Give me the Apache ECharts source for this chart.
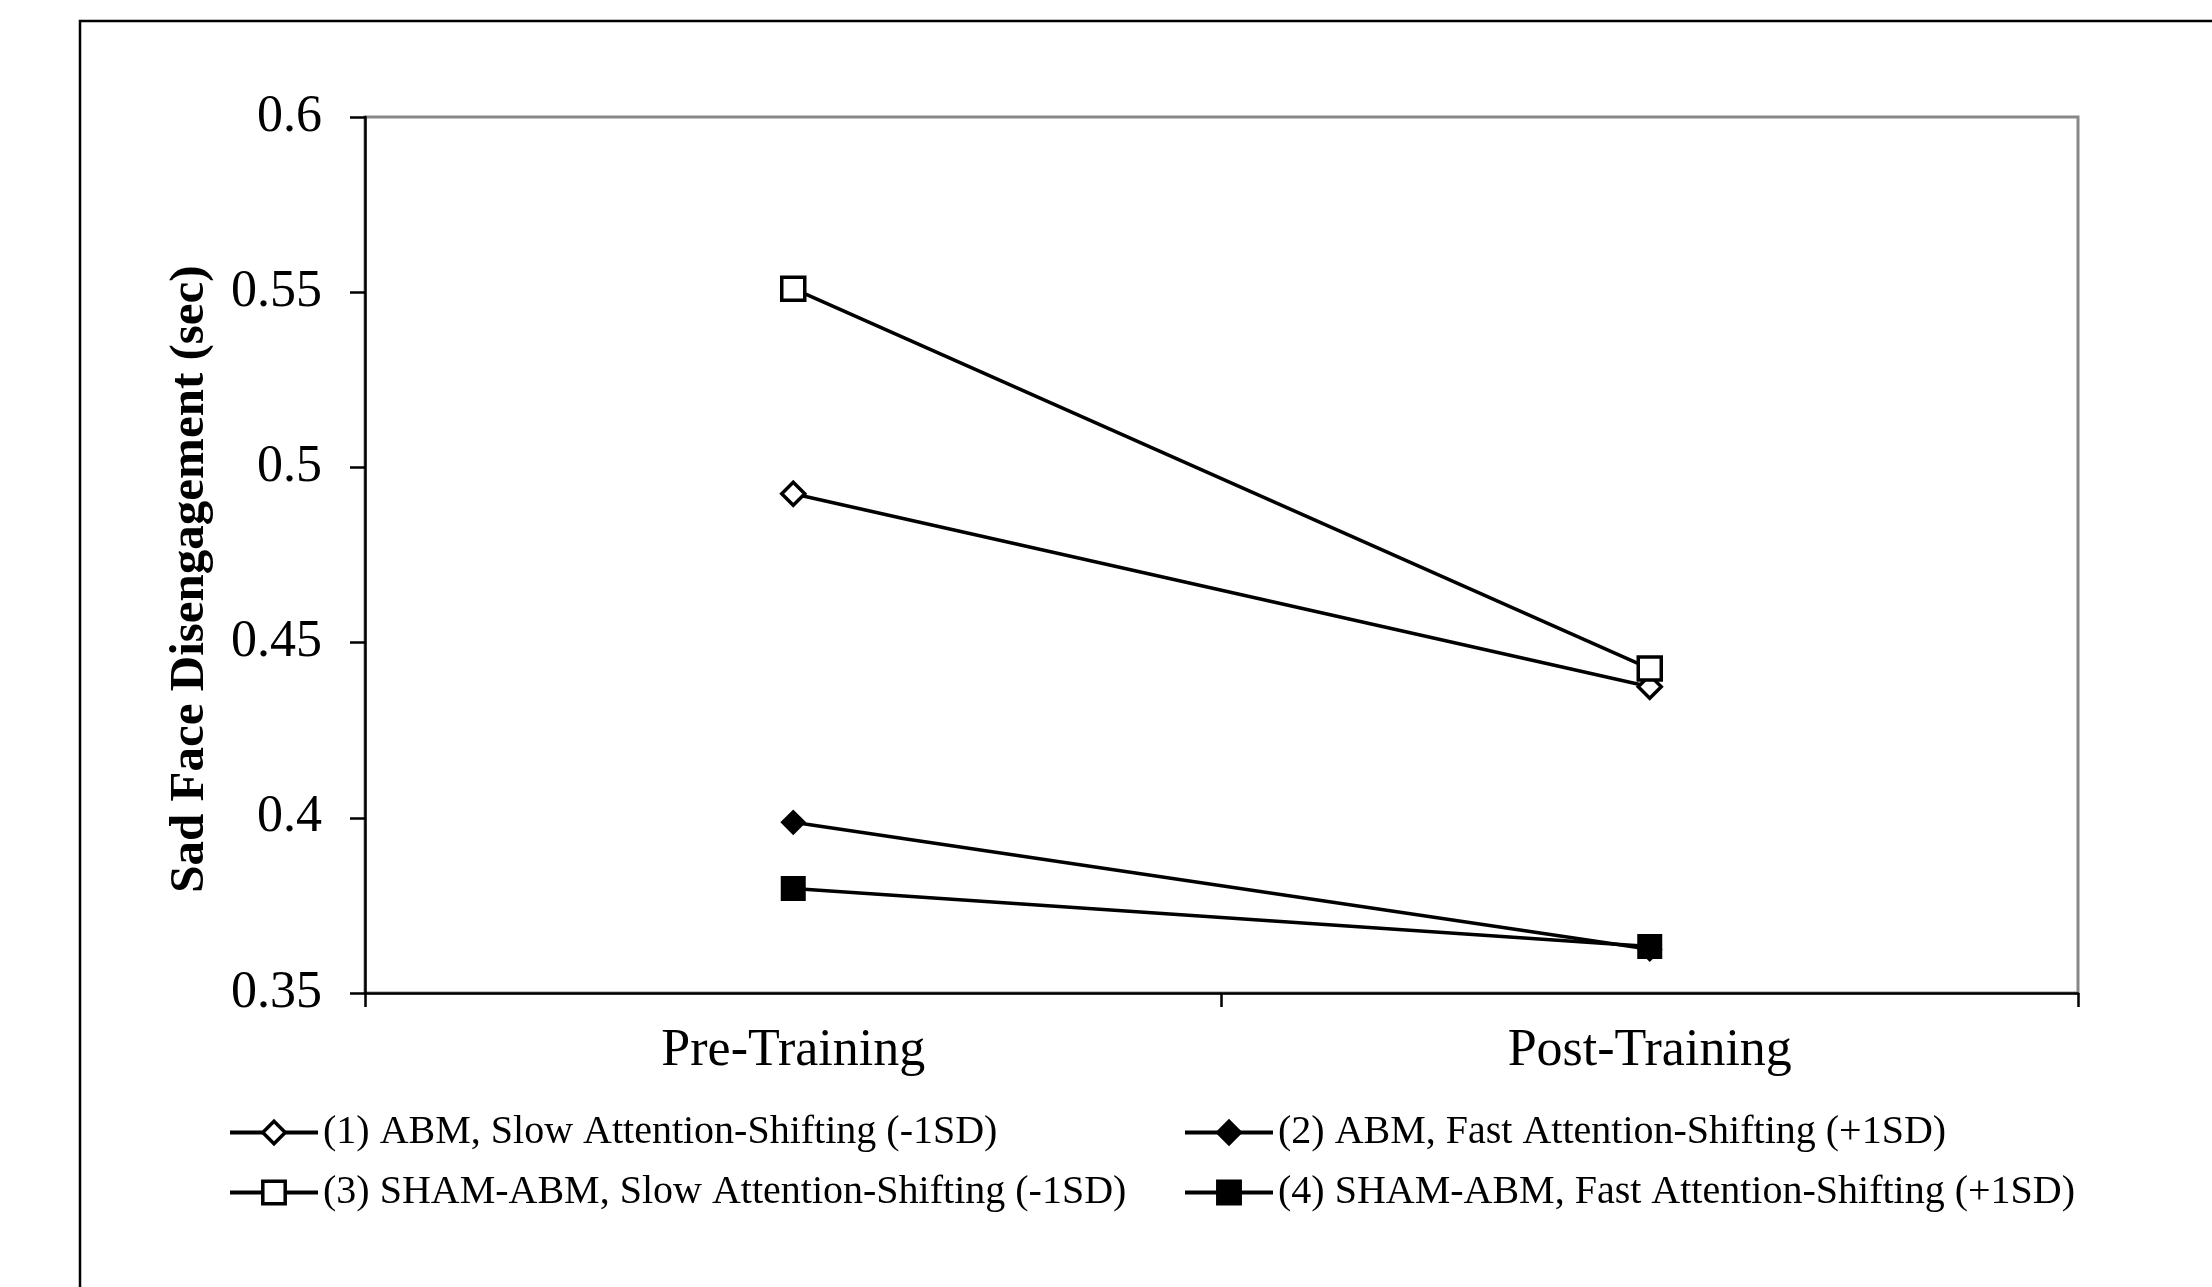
<!DOCTYPE html>
<html>
<head>
<meta charset="utf-8">
<script src="https://cdn.jsdelivr.net/npm/echarts@6/dist/echarts.min.js"></script>
<style>
html,body{margin:0;padding:0;background:#fff;}
#chart{width:2212px;height:1287px;}
</style>
</head>
<body>
<div id="chart"></div>
<script>
const categories = ['Pre-Training', 'Post-Training'];
const seriesNames = [
  '(1) ABM, Slow Attention-Shifting (-1SD)',
  '(2) ABM, Fast Attention-Shifting (+1SD)',
  '(3) SHAM-ABM, Slow Attention-Shifting (-1SD)',
  '(4) SHAM-ABM, Fast Attention-Shifting (+1SD)'
];
const abmSlow = [0.4925, 0.4374];
const abmFast = [0.3987, 0.3625];
const shamSlow = [0.551, 0.4426];
const shamFast = [0.3798, 0.3633];
const yTicks = [0.35, 0.4, 0.45, 0.5, 0.55, 0.6];
const yAxisTitle = 'Sad Face Disengagement (sec)';

const FONT = '"Liberation Serif", "Times New Roman", serif';

function mk(name, data, symbol, filled) {
  return {
    name: name,
    type: 'line',
    data: data,
    symbol: symbol,
    symbolSize: 23,
    showAllSymbol: true,
    lineStyle: { color: '#000', width: 3.5 },
    itemStyle: filled
      ? { color: '#000', borderColor: '#000', borderWidth: 2 }
      : { color: '#fff', borderColor: '#000', borderWidth: 3.5 },
    emphasis: { disabled: true },
    animation: false
  };
}

const legendCommon = {
  orient: 'vertical',
  top: 1107,
  itemWidth: 88, itemHeight: 28, itemGap: 19,
  lineStyle: { width: 4, color: '#000' },
  itemStyle: { borderWidth: 3.5 },
  textStyle: { fontFamily: FONT, fontSize: 40, color: '#000', lineHeight: 41 },
  selectedMode: false
};

const chart = echarts.init(document.getElementById('chart'), null, { renderer: 'canvas' });
chart.setOption({
  backgroundColor: '#fff',
  animation: false,
  graphic: [{
    type: 'rect',
    shape: { x: 80, y: 21, width: 2400, height: 1600 },
    style: { fill: 'none', stroke: '#000', lineWidth: 2.5 },
    silent: true,
    z: -1
  }],
  grid: {
    left: 365, right: 134, top: 117, bottom: 294,
    show: true, borderColor: '#888', borderWidth: 3, backgroundColor: 'transparent'
  },
  legend: [
    Object.assign({}, legendCommon, { left: 223, data: [seriesNames[0], seriesNames[2]] }),
    Object.assign({}, legendCommon, { left: 1178, data: [seriesNames[1], seriesNames[3]] })
  ],
  xAxis: {
    type: 'category',
    data: categories,
    boundaryGap: true,
    axisLine: { lineStyle: { color: '#000', width: 2.5 }, onZero: false },
    axisTick: { show: true, length: 14, inside: false, lineStyle: { color: '#000', width: 2.5 } },
    axisLabel: { fontFamily: FONT, fontSize: 52, color: '#000', margin: 32 },
    splitLine: { show: false },
    z: 5
  },
  yAxis: {
    type: 'value',
    min: yTicks[0], max: yTicks[yTicks.length - 1], interval: 0.05,
    name: yAxisTitle,
    nameLocation: 'middle',
    nameRotate: 90,
    nameGap: 150,
    nameTextStyle: { fontFamily: FONT, fontSize: 49, fontWeight: 'bold', color: '#000', padding: [0, 48, 0, 0] },
    axisLine: { show: true, lineStyle: { color: '#000', width: 2.5 } },
    axisTick: { show: true, length: 15, lineStyle: { color: '#000', width: 2.5 } },
    axisLabel: {
      fontFamily: FONT, fontSize: 52, color: '#000', margin: 43,
      formatter: v => String(parseFloat(v.toFixed(2)))
    },
    splitLine: { show: false },
    z: 5
  },
  series: [
    mk(seriesNames[0], abmSlow, 'diamond', false),
    mk(seriesNames[1], abmFast, 'diamond', true),
    mk(seriesNames[2], shamSlow, 'rect', false),
    mk(seriesNames[3], shamFast, 'rect', true)
  ]
});
</script>
</body>
</html>
